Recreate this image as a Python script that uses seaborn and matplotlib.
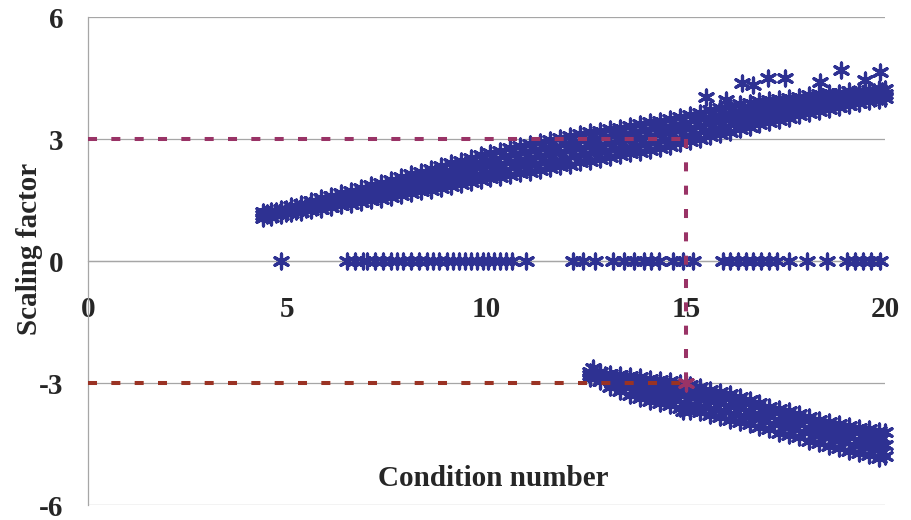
import matplotlib
matplotlib.use("Agg")
import matplotlib.pyplot as plt
import seaborn as sns
import pandas as pd

# ---------------- data ----------------
up_x = [4.4, 4.6, 4.85, 5.1, 5.35, 5.6, 5.85, 6.1, 6.35, 6.6, 6.85, 7.1, 7.35, 7.6, 7.85,
        8.1, 8.35, 8.6, 8.85, 9.1, 9.35, 9.6, 9.85, 10.1, 10.35, 10.6, 10.85, 11.1, 11.35,
        11.6, 11.85, 12.1, 12.35, 12.6, 12.85, 13.1, 13.35, 13.6, 13.85, 14.1, 14.35, 14.6,
        14.85, 15.1, 15.35, 15.6, 15.85, 16.1, 16.35, 16.6, 16.85, 17.1, 17.35, 17.6, 17.85,
        18.1, 18.35, 18.6, 18.85, 19.1, 19.35, 19.6, 19.85, 20.0]
up_lo = [1.06, 1.09, 1.13, 1.17, 1.21, 1.25, 1.29, 1.33, 1.37, 1.41, 1.46, 1.50, 1.53, 1.58, 1.62,
         1.66, 1.71, 1.75, 1.80, 1.85, 1.90, 1.94, 1.99, 2.03, 2.07, 2.12, 2.16, 2.20, 2.24,
         2.28, 2.33, 2.37, 2.43, 2.47, 2.51, 2.56, 2.60, 2.65, 2.69, 2.74, 2.78, 2.83,
         2.89, 2.95, 3.01, 3.07, 3.13, 3.18, 3.24, 3.30, 3.36, 3.41, 3.47, 3.52, 3.58,
         3.63, 3.68, 3.73, 3.78, 3.83, 3.88, 3.93, 3.97, 4.00]
up_mid = [1.13, 1.17, 1.21, 1.26, 1.31, 1.37, 1.41, 1.47, 1.52, 1.57, 1.62, 1.68, 1.73, 1.78, 1.84,
          1.90, 1.95, 2.01, 2.07, 2.13, 2.18, 2.24, 2.30, 2.35, 2.39, 2.44, 2.49, 2.54, 2.58,
          2.62, 2.68, 2.72, 2.78, 2.82, 2.86, 2.90, 2.94, 2.99, 3.03, 3.08, 3.12, 3.16,
          3.22, 3.28, 3.33, 3.39, 3.44, 3.50, 3.55, 3.60, 3.65, 3.69, 3.73, 3.77, 3.81,
          3.85, 3.89, 3.93, 3.96, 4.00, 4.04, 4.07, 4.10, 4.11]
up_hi = [1.20, 1.24, 1.29, 1.36, 1.41, 1.48, 1.54, 1.61, 1.67, 1.73, 1.79, 1.86, 1.92, 1.99, 2.06,
         2.13, 2.20, 2.27, 2.34, 2.41, 2.47, 2.54, 2.61, 2.66, 2.71, 2.77, 2.82, 2.87, 2.92,
         2.97, 3.02, 3.07, 3.12, 3.16, 3.20, 3.24, 3.28, 3.33, 3.37, 3.41, 3.45, 3.49,
         3.54, 3.60, 3.65, 3.71, 3.76, 3.81, 3.85, 3.89, 3.94, 3.97, 3.99, 4.02, 4.04,
         4.07, 4.10, 4.12, 4.14, 4.17, 4.19, 4.21, 4.22, 4.22]

up_x2 = [4.5, 4.72, 4.97, 5.22, 5.47, 5.72, 5.97, 6.22, 6.47, 6.72, 6.97, 7.22, 7.47, 7.72,
         7.97, 8.22, 8.47, 8.72, 8.97, 9.22, 9.47, 9.72, 9.97, 10.22, 10.47, 10.72, 10.97,
         11.22, 11.47, 11.72, 11.97, 12.22, 12.47, 12.72, 12.97, 13.22, 13.47, 13.72, 13.97,
         14.22, 14.47, 14.72, 14.97, 15.22, 15.47, 15.72, 15.97, 16.22, 16.47, 16.72, 16.97,
         17.22, 17.47, 17.72, 17.97, 18.22, 18.47, 18.72, 18.97, 19.22, 19.47, 19.72, 19.93]
up_q1 = [1.12, 1.15, 1.19, 1.24, 1.28, 1.33, 1.37, 1.42, 1.47, 1.51, 1.56, 1.61, 1.65, 1.70,
         1.75, 1.80, 1.85, 1.90, 1.96, 2.01, 2.06, 2.11, 2.16, 2.21, 2.25, 2.30, 2.35,
         2.39, 2.43, 2.47, 2.52, 2.57, 2.62, 2.67, 2.70, 2.75, 2.79, 2.84, 2.88,
         2.93, 2.97, 3.01, 3.07, 3.13, 3.19, 3.25, 3.30, 3.36, 3.41, 3.47, 3.52,
         3.57, 3.62, 3.66, 3.71, 3.76, 3.80, 3.85, 3.89, 3.93, 3.98, 4.02, 4.05]
up_q3 = [1.19, 1.22, 1.27, 1.33, 1.38, 1.44, 1.50, 1.56, 1.61, 1.67, 1.72, 1.79, 1.84, 1.90,
         1.97, 2.03, 2.09, 2.16, 2.22, 2.29, 2.35, 2.41, 2.47, 2.52, 2.57, 2.62, 2.67,
         2.72, 2.77, 2.81, 2.87, 2.91, 2.97, 3.01, 3.05, 3.09, 3.13, 3.18, 3.22,
         3.26, 3.30, 3.34, 3.40, 3.46, 3.51, 3.57, 3.62, 3.67, 3.72, 3.76, 3.81,
         3.85, 3.88, 3.91, 3.94, 3.98, 4.01, 4.04, 4.07, 4.10, 4.13, 4.16, 4.18]
up_out_x = [15.5, 16.0, 16.4, 16.7, 17.06, 17.5, 18.37, 18.9, 19.5, 19.87]
up_out_y = [4.03, 3.96, 4.37, 4.33, 4.50, 4.50, 4.40, 4.70, 4.45, 4.65]

low_x = [12.6, 12.85, 13.1, 13.35, 13.6, 13.85, 14.1, 14.35, 14.6, 14.85, 15.1, 15.35, 15.6,
         15.85, 16.1, 16.35, 16.6, 16.85, 17.1, 17.35, 17.6, 17.85, 18.1, 18.35, 18.6, 18.85,
         19.1, 19.35, 19.6, 19.85, 20.0]
low_hi = [-2.72, -2.74, -2.78, -2.80, -2.84, -2.86, -2.90, -2.92, -2.96, -3.00, -3.05, -3.10, -3.16,
          -3.22, -3.28, -3.35, -3.42, -3.50, -3.58, -3.65, -3.70, -3.76, -3.84, -3.90, -3.96, -4.00,
          -4.05, -4.10, -4.14, -4.18, -4.20]
low_mid = [-2.80, -2.84, -2.92, -2.98, -3.05, -3.10, -3.16, -3.20, -3.24, -3.30, -3.35, -3.40, -3.45,
           -3.50, -3.56, -3.62, -3.68, -3.75, -3.82, -3.90, -3.96, -4.02, -4.10, -4.16, -4.22, -4.28,
           -4.34, -4.40, -4.45, -4.50, -4.52]
low_lo = [-2.88, -2.95, -3.10, -3.20, -3.30, -3.38, -3.45, -3.50, -3.55, -3.62, -3.68, -3.72, -3.78,
          -3.84, -3.90, -3.96, -4.02, -4.08, -4.14, -4.22, -4.28, -4.34, -4.42, -4.48, -4.54, -4.60,
          -4.66, -4.72, -4.78, -4.84, -4.80]
low_x2 = [12.72, 12.97, 13.22, 13.47, 13.72, 13.97, 14.22, 14.47, 14.72, 14.97, 15.22, 15.47,
          15.72, 15.97, 16.22, 16.47, 16.72, 16.97, 17.22, 17.47, 17.72, 17.97, 18.22, 18.47,
          18.72, 18.97, 19.22, 19.47, 19.72, 19.93]
low_q1 = [-2.78, -2.81, -2.87, -2.91, -2.96, -3.00, -3.05, -3.08, -3.12, -3.17, -3.22, -3.27,
          -3.32, -3.38, -3.44, -3.50, -3.57, -3.64, -3.72, -3.79, -3.85, -3.91, -3.99, -4.05,
          -4.11, -4.16, -4.21, -4.27, -4.31, -4.36]
low_q3 = [-2.86, -2.91, -3.03, -3.11, -3.19, -3.26, -3.32, -3.37, -3.41, -3.48, -3.53, -3.58,
          -3.63, -3.69, -3.75, -3.81, -3.87, -3.93, -4.00, -4.08, -4.14, -4.20, -4.28, -4.34,
          -4.40, -4.46, -4.52, -4.58, -4.63, -4.69]
low_out_x = [12.68, 14.93]
low_out_y = [-2.63, -3.70]

zero_x = [4.85, 6.5, 6.7, 6.9, 7.0, 7.2, 7.4, 7.6, 7.75, 7.9, 8.1, 8.3, 8.5, 8.65, 8.8, 9.0,
          9.15, 9.3, 9.45, 9.6, 9.75, 9.9, 10.05, 10.2, 10.35, 10.5, 10.65, 10.98, 12.17,
          12.42, 12.72, 13.18, 13.45, 13.7, 13.95, 14.12, 14.32, 14.68, 14.92, 15.18, 15.93,
          16.1, 16.3, 16.5, 16.7, 16.9, 17.1, 17.3, 17.6, 18.04, 18.54, 19.05, 19.25, 19.45,
          19.65, 19.87]
zero_level = 0.0

ref_x = [0, 15]
ref_hi = [3, 3]
ref_lo = [-3, -3]
vert_x = [15, 15]
vert_y = [3, -3]

x_ticks = [0, 5, 10, 15, 20]
y_ticks = [-6, -3, 0, 3, 6]

# ---------------- build table ----------------
pts_x = (up_x * 3 + up_x2 * 2 + up_out_x + low_x * 3 + low_x2 * 2 + low_out_x + zero_x)
pts_y = (up_lo + up_mid + up_hi + up_q1 + up_q3 + up_out_y
         + low_hi + low_mid + low_lo + low_q1 + low_q3 + low_out_y
         + [zero_level] * len(zero_x))
df = pd.DataFrame({"Condition number": pts_x, "Scaling factor": pts_y})

# ---------------- style ----------------
sns.set_style("white")
plt.rcParams["font.family"] = ["Liberation Serif", "DejaVu Serif"]
plt.rcParams["font.weight"] = "bold"
plt.rcParams["lines.scale_dashes"] = False

BLUE = "#2E3192"
PURPLE = "#993366"
BROWN = "#9A3324"
GRID = "#A6A6A6"
FS = 21

fig = plt.figure(figsize=(9.11, 5.2), dpi=100)
ax = fig.add_axes([88 / 911, 15 / 520, 797 / 911, 488 / 520])

sns.scatterplot(data=df, x="Condition number", y="Scaling factor", ax=ax,
                marker=(6, 2, 0), s=115, color=BLUE, linewidth=2.3,
                clip_on=False, zorder=3, legend=False)

dash = (0, (6.5, 10.3))
sns.lineplot(x=ref_x, y=ref_hi, ax=ax, color=PURPLE, lw=2.9, linestyle=dash, zorder=4)
sns.lineplot(x=ref_x, y=ref_lo, ax=ax, color=BROWN, lw=2.9, linestyle=dash, zorder=4)
sns.lineplot(x=vert_x, y=vert_y, ax=ax, color=PURPLE, lw=2.9, linestyle=dash, zorder=4,
             sort=False, estimator=None)
ax.scatter([vert_x[1]], [vert_y[1]], marker=(6, 2, 0), s=115, color=PURPLE,
           linewidth=2.3, zorder=5)

ax.set_xlim(0, 20)
ax.set_ylim(-6, 6)
ax.set_xticks(x_ticks)
ax.set_yticks(y_ticks)
ax.set_xticklabels([str(v) for v in x_ticks])
ax.set_yticklabels([str(v) for v in y_ticks])

for s in ["top", "right"]:
    ax.spines[s].set_visible(False)
ax.spines["left"].set_color(GRID)
ax.spines["left"].set_linewidth(0.9)
ax.spines["bottom"].set_position(("data", 0))
ax.spines["bottom"].set_color(GRID)
ax.spines["bottom"].set_linewidth(0.9)
ax.spines["bottom"].set_zorder(1)

ax.yaxis.grid(True, color=GRID, linewidth=0.9, zorder=0)
ax.xaxis.grid(False)
ax.set_axisbelow(True)

ax.tick_params(axis="y", direction="out", length=7.2, width=0.9, color=GRID,
               pad=10.5, labelsize=FS)
ax.tick_params(axis="x", direction="out", length=4.5, width=0.9, color=GRID,
               pad=21, labelsize=FS)
for lab in ax.get_xticklabels() + ax.get_yticklabels():
    lab.set_fontweight("bold")

ax.set_xlabel("")
ax.set_ylabel("")
fig.text(493 / 911, 1 - 478 / 520, "Condition number", ha="center", va="center",
         fontsize=FS, fontweight="bold")
fig.text(30 / 911, 1 - 249 / 520, "Scaling factor", ha="center", va="center",
         rotation=90, fontsize=FS, fontweight="bold")

fig.savefig("out.png", dpi=100)
